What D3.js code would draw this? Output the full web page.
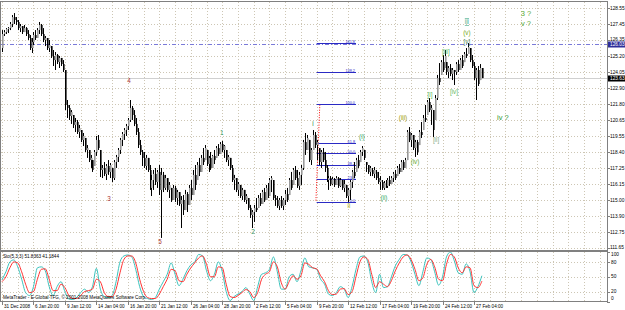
<!DOCTYPE html>
<html>
<head>
<meta charset="utf-8">
<script src="https://cdn.jsdelivr.net/npm/d3@7"></script>
<style>
  body { margin: 0; background: #fff; }
  svg { display: block; }
  text { font-family: "Liberation Sans", Arial, sans-serif; }
</style>
</head>
<body>
<script>
//----------------------------------------------------------------
// données : barres H4 (open / high / low / close), une ligne = 16 barres
//----------------------------------------------------------------
var openP = [125.75,126.74,126.88,127.09,127.16,127.45,127.94,127.73,127.59,127.16,127.30,126.88,127.16,126.74,126.46,125.75,
126.17,126.67,126.46,127.02,127.38,126.74,126.32,126.46,125.75,125.89,125.19,124.90,125.26,124.76,125.05,124.62,
124.20,121.73,121.52,120.95,121.02,120.32,120.53,119.82,119.96,119.26,119.40,118.55,118.55,117.84,117.84,117.42,
118.41,119.26,118.55,117.14,117.28,116.86,117.42,117.00,117.28,116.57,117.70,118.06,118.55,119.26,119.68,119.96,
120.24,120.67,121.52,121.02,120.39,119.82,118.90,118.41,117.99,117.42,117.99,117.14,115.87,116.43,116.86,116.29,
117.00,115.73,116.79,115.87,116.57,115.73,115.87,115.02,115.87,115.16,115.58,114.74,115.02,114.31,115.44,114.67,
115.87,115.37,116.79,116.43,117.49,117.00,117.99,117.84,118.55,117.56,117.99,117.28,118.13,117.99,118.69,118.27,
118.97,118.55,118.55,117.84,117.99,117.28,116.43,116.57,115.73,116.08,115.30,115.73,115.02,115.16,114.46,113.96,
114.17,114.46,114.46,115.16,114.74,115.58,115.02,115.87,115.30,116.43,116.43,115.16,115.02,114.60,115.02,114.60,
115.02,115.44,115.37,116.43,116.08,117.14,116.57,116.01,116.79,117.28,119.11,118.55,119.26,117.84,118.55,119.61,
118.90,118.69,117.70,118.41,117.84,117.28,116.43,116.57,116.15,116.50,116.08,116.57,116.01,116.43,115.87,116.08,
115.30,115.73,116.29,117.00,117.00,117.84,117.70,118.41,118.55,117.70,117.49,117.00,117.14,116.86,117.00,116.57,
116.29,116.29,115.87,116.22,116.01,116.43,116.15,116.57,116.86,116.71,117.28,117.00,117.70,117.28,117.84,119.82,
119.26,119.61,118.69,119.11,118.90,119.82,119.96,120.81,121.02,121.94,121.37,121.37,120.67,122.22,123.63,123.85,
124.76,124.34,124.76,124.06,124.34,123.92,124.20,124.06,124.62,124.20,124.90,124.76,125.33,125.33,125.75,124.90,
124.48,123.63,124.20,123.49,124.34];

var highP = [127.02,127.02,127.16,127.23,127.59,128.08,128.22,127.94,127.73,127.45,127.30,127.38,127.23,127.02,126.67,126.46,
126.88,127.02,127.16,127.59,127.45,127.16,126.60,126.46,126.32,125.89,125.61,125.47,125.33,125.19,125.05,124.90,
124.20,122.08,121.73,121.37,121.02,120.81,120.67,120.32,119.96,119.75,119.40,118.90,118.55,118.20,117.84,118.55,
119.54,119.61,118.55,117.49,117.70,117.56,117.84,117.63,117.28,117.84,118.20,118.69,119.40,119.82,120.10,120.39,
120.81,122.08,121.66,121.37,120.81,120.10,119.26,118.55,118.41,118.20,117.99,117.49,116.79,117.14,117.28,117.14,
117.49,117.28,117.00,116.79,116.57,116.29,115.87,116.08,116.01,115.73,115.58,115.30,115.37,115.73,115.58,116.08,
116.43,117.14,117.49,117.70,117.99,118.20,118.69,118.90,118.55,118.13,118.41,118.20,118.55,118.83,118.97,119.11,
119.19,118.90,118.55,118.20,117.99,117.49,116.79,116.57,116.29,116.08,115.87,115.73,115.44,115.16,114.67,114.31,
114.67,115.16,115.37,115.51,115.73,115.87,116.08,116.22,116.57,116.71,116.43,115.37,115.30,115.16,115.30,115.16,
115.73,115.87,116.57,117.00,117.28,117.42,117.14,117.00,117.49,119.26,119.75,119.61,119.26,118.69,119.96,119.82,
119.26,118.69,118.55,118.69,118.41,117.49,116.71,116.71,116.64,116.57,116.71,116.64,116.57,116.43,116.43,116.08,
115.87,116.43,117.14,117.70,117.99,118.20,118.55,118.83,118.55,117.70,117.49,117.42,117.28,117.35,117.14,117.00,
116.71,116.43,116.36,116.43,116.57,116.71,116.71,117.00,117.14,117.42,117.56,117.84,117.84,117.99,119.96,120.17,
119.75,119.61,119.26,119.26,119.96,120.53,121.02,121.73,122.08,122.22,121.73,121.37,122.43,123.85,124.69,124.90,
125.26,125.61,124.76,124.48,124.62,124.34,124.20,124.76,124.90,125.05,125.26,125.47,125.75,126.10,125.75,125.26,
124.76,124.34,124.48,124.62,124.34];

var lowP = [125.47,126.60,126.74,126.81,127.02,127.23,127.45,127.38,127.02,126.88,126.74,126.88,126.60,126.32,125.61,125.40,
125.96,126.32,126.46,126.74,126.60,126.17,125.89,125.61,125.47,125.05,124.48,124.20,124.62,124.34,124.48,124.06,
121.37,120.81,120.67,120.39,120.10,119.82,119.68,119.40,119.11,118.83,118.41,117.99,117.70,117.28,117.00,117.42,
118.13,118.55,116.64,116.57,116.71,116.43,116.79,116.57,116.29,116.43,117.28,117.70,118.27,118.83,119.26,119.54,
119.96,120.53,120.67,120.24,119.61,118.69,118.20,117.42,117.28,117.14,117.00,115.73,115.30,115.73,116.08,115.87,
115.37,112.34,115.58,115.73,115.58,115.16,114.88,115.02,114.88,114.67,114.60,113.04,113.96,114.31,114.17,114.67,
115.02,115.37,115.73,116.43,116.71,117.00,117.49,117.84,117.42,117.00,117.14,117.28,117.56,117.99,118.13,118.27,
118.41,117.99,117.70,117.42,117.14,116.29,115.73,115.58,115.30,115.16,115.02,114.88,114.74,114.31,113.75,113.04,
113.47,114.17,114.46,114.60,114.74,114.88,115.02,115.16,115.30,115.58,115.02,114.60,114.46,114.31,114.46,114.31,
114.67,114.88,115.37,115.73,116.08,116.43,115.87,115.73,116.08,117.14,118.20,118.55,117.70,117.49,118.55,118.69,
117.84,117.49,117.28,117.70,117.00,116.29,115.73,116.01,116.08,115.94,116.08,115.87,115.94,115.73,115.58,115.16,
114.88,115.02,115.87,116.57,117.00,117.28,117.70,118.13,117.84,117.00,116.86,116.71,116.71,116.57,116.43,116.15,
115.73,115.73,115.73,115.87,115.87,116.01,116.15,116.29,116.43,116.71,116.86,117.00,117.14,117.28,117.84,119.11,
118.76,118.55,118.06,118.20,118.90,119.40,119.96,120.53,121.02,121.23,120.32,119.47,120.67,122.08,123.14,123.85,
124.06,124.34,123.85,123.63,123.77,123.49,123.14,123.85,124.06,124.20,124.34,124.76,125.05,125.33,124.76,124.34,
123.49,122.08,123.07,123.49,123.63];

var closeP = [126.74,126.88,127.09,127.16,127.45,127.94,127.73,127.59,127.16,127.30,126.88,127.16,126.74,126.46,125.75,126.17,
126.67,126.46,127.02,127.38,126.74,126.32,126.46,125.75,125.96,125.19,124.90,125.26,124.76,125.05,124.62,124.20,
121.73,121.52,120.95,121.23,120.32,120.53,119.82,120.10,119.26,119.54,118.55,118.69,117.84,117.99,117.14,118.41,
119.26,118.69,117.14,117.28,116.86,117.42,117.00,117.49,116.57,117.70,118.06,118.55,119.26,119.68,119.96,120.24,
120.67,121.52,121.02,120.39,119.82,118.90,118.41,117.99,117.42,117.99,117.14,115.87,116.43,116.86,116.29,117.00,
115.73,116.79,115.87,116.57,115.73,116.08,115.02,115.87,115.16,115.58,114.74,115.02,114.31,115.44,114.67,115.87,
115.37,116.79,116.08,117.49,117.00,117.99,117.70,118.69,117.56,117.99,117.28,118.13,117.84,118.69,118.27,118.97,
118.55,118.83,117.84,118.06,117.28,116.43,116.57,115.73,116.15,115.30,115.73,115.02,115.30,114.46,113.96,114.17,
114.46,114.31,115.16,114.74,115.58,115.02,115.87,115.30,116.43,116.57,115.16,115.02,114.60,115.02,114.60,115.02,
115.44,115.02,116.43,115.87,117.14,116.57,116.01,116.79,117.28,119.11,118.55,119.40,117.84,118.55,119.61,118.90,
119.11,117.70,118.41,117.84,117.28,116.43,116.57,116.15,116.50,116.08,116.57,116.01,116.43,115.87,116.15,115.30,
115.73,116.29,117.00,116.71,117.84,117.42,118.41,118.69,117.99,117.49,117.00,117.28,116.86,117.14,116.57,116.29,
116.43,115.87,116.22,116.01,116.43,116.15,116.57,116.86,116.57,117.28,117.00,117.70,117.28,117.84,119.82,119.26,
119.61,118.69,119.11,118.41,119.82,119.61,120.81,120.67,121.94,121.37,121.52,119.96,122.22,123.63,123.35,124.76,
124.20,125.19,124.06,124.34,123.92,124.20,124.06,124.62,124.20,124.90,124.48,125.33,125.19,125.82,124.90,124.48,
123.63,124.20,123.21,124.34,123.63];

// stochastique (5,3,3), une valeur toutes les 2 barres
var stoMain = [44,60,80,84,70,45,18,12,30,68,70,62,30,12,30,40,20,5,4,8,18,25,18,30,67,25,10,8,12,40,
80,92,94,90,65,30,10,6,4,8,25,40,55,78,55,32,45,62,74,80,95,92,62,42,55,80,60,20,2,10,
15,20,28,15,2,30,55,58,65,90,60,25,25,50,55,40,62,88,70,68,65,45,35,15,12,18,30,25,8,30,
65,90,92,80,40,18,55,28,30,50,72,85,95,94,80,55,32,60,88,85,60,33,50,90,100,82,58,55,76,60,
18,30,52];
var stoSignal = [40,50,68,80,78,60,35,18,20,45,65,66,45,22,22,35,28,12,6,6,12,20,22,25,45,40,18,10,10,25,
58,85,92,92,78,45,20,8,6,6,15,30,45,65,62,42,40,55,68,78,88,92,75,50,50,70,68,35,10,8,
12,18,24,20,8,18,45,55,60,80,70,38,25,40,52,45,52,78,75,68,66,52,40,22,14,15,25,26,14,20,
50,80,90,85,55,28,40,35,30,42,62,78,90,94,85,65,42,48,75,85,70,45,42,75,95,90,68,58,70,68,
32,28,41];

// axes
var timeLabels = ["31 Dec 2008","6 Jan 20:00","9 Jan 12:00","14 Jan 04:00","16 Jan 20:00","21 Jan 12:00",
  "26 Jan 04:00","28 Jan 20:00","2 Feb 12:00","5 Feb 04:00","9 Feb 20:00","12 Feb 12:00",
  "17 Feb 04:00","19 Feb 20:00","24 Feb 12:00","27 Feb 04:00"];
var priceTicks = [128.55,127.45,126.35,125.20,124.05,122.90,121.80,120.65,119.55,118.40,117.25,116.15,115.00,113.90,112.75,111.65];
var stoTicks = [100,80,50,20,0];
var stoGrid = [80,50,20];

// objets : ligne horizontale, fibonacci
var hLinePrice = 126.03;
var fibExpLevels = ["100.0","138.2","161.8"];
var fibExpPrices = [121.80,124.06,126.10];
var fibRetLevels = ["0.0","23.6","38.2","50.0","61.8"];
var fibRetPrices = [114.88,116.50,117.49,118.34,119.04];
var fibBars = [160,180];
var fibTrend = [[161.6,121.75],[159.6,114.88]];

// étiquettes Elliott
var waveText  = ["4","3","5","1","2","i","(i)","ii","(ii)","(iii)","(iv)","[i]","[ii]","[iii]","[iv]","iii","(v)","[v]","3 ?","v ?","iv ?"];
var waveBar   = [64.6,54.4,80.3,111.8,127.6,158.1,183.0,176.4,194.2,203.9,210.0,217.6,220.7,225.7,229.8,236.4,236.4,236.4,266.4,266.4,254.7];
var wavePrice = [123.42,115.09,112.05,119.75,112.76,120.39,119.47,114.60,115.16,120.81,117.70,122.43,119.26,125.47,122.65,127.59,126.81,126.17,128.22,127.52,120.88];
var waveColor = ["#a33","#a33","#a33","#396","#396","#283","#3a6","#aa0","#3a6","#990","#6a3","#5b5","#8a8","#5b5","#6b6","#4a8","#7a2","#585","#5a3","#5a3","#393"];
var waveDeco  = ["","","","","","","","","","","","","","","","overline underline","","","","",""];

//----------------------------------------------------------------
//  svg
//----------------------------------------------------------------
var largeur = 625, hauteur = 310;
var svg = d3.select("body").append("svg")
    .attr("width", largeur)
    .attr("height", hauteur);

var x = d3.scaleLinear().domain([0, 240]).range([2, 474]);
var y = d3.scaleLinear().domain([111.65, 128.55]).range([247.7, 8.4]);
var ys = d3.scaleLinear().domain([0, 100]).range([301.5, 252]);

var droite = 607, grille = "#cdc6b4";
function px(v) { return Math.round(v) + 0.5; }

// grille verticale (toutes les 8 barres)
var vIdx = d3.range(0, 308, 8);
[[2, 250], [252, 301]].forEach(function(r) {
  svg.append("g").selectAll("line").data(vIdx).enter().append("line")
    .attr("x1", function(d) { return px(x(d)); })
    .attr("x2", function(d) { return px(x(d)); })
    .attr("y1", r[0]).attr("y2", r[1])
    .attr("stroke", grille).attr("stroke-dasharray", "1,2");
});
// grille horizontale
svg.append("g").selectAll("line").data(priceTicks).enter().append("line")
  .attr("x1", 1).attr("x2", droite)
  .attr("y1", function(d) { return px(y(d)); })
  .attr("y2", function(d) { return px(y(d)); })
  .attr("stroke", grille).attr("stroke-dasharray", "1,2");
svg.append("g").selectAll("line").data(stoGrid).enter().append("line")
  .attr("x1", 1).attr("x2", droite)
  .attr("y1", function(d) { return px(ys(d)); })
  .attr("y2", function(d) { return px(ys(d)); })
  .attr("stroke", grille).attr("stroke-dasharray", "1,2");

// ligne horizontale bleue + prix courant
svg.append("line").attr("x1", 1).attr("x2", droite)
  .attr("y1", px(y(hLinePrice))).attr("y2", px(y(hLinePrice)))
  .attr("stroke", "#7a7ad8").attr("stroke-dasharray", "4,2,1,2");
var dernier = closeP[closeP.length - 1];
svg.append("line").attr("x1", 1).attr("x2", droite)
  .attr("y1", px(y(dernier))).attr("y2", px(y(dernier)))
  .attr("stroke", "#d0d0d0");

// fibonacci
var fx1 = x(fibBars[0]), fx2 = x(fibBars[1]);
var fib = svg.append("g");
fib.append("line")
  .attr("x1", x(fibTrend[0][0])).attr("y1", y(fibTrend[0][1]))
  .attr("x2", x(fibTrend[1][0])).attr("y2", y(fibTrend[1][1]))
  .attr("stroke", "#f00").attr("stroke-dasharray", "1,1.5");
fibExpPrices.concat(fibRetPrices).forEach(function(p, k) {
  var lab = fibExpLevels.concat(fibRetLevels)[k];
  fib.append("line").attr("x1", fx1).attr("x2", fx2)
    .attr("y1", px(y(p))).attr("y2", px(y(p)))
    .attr("stroke", "#2a2ac4");
  fib.append("text").attr("x", fx2 - 1).attr("y", px(y(p)) - 1)
    .attr("text-anchor", "end").attr("font-size", 3.8)
    .attr("fill", "#2a2ac4").text(lab);
});

// barres
var barres = svg.append("g");
closeP.forEach(function(c, i) {
  var xc = Math.round(x(i));
  var o = openP[i], hausse = c >= o;
  barres.append("line")
    .attr("x1", xc + 0.5).attr("x2", xc + 0.5)
    .attr("y1", y(highP[i])).attr("y2", y(lowP[i]))
    .attr("stroke", "#000");
  var yt = y(Math.max(o, c)), yb = y(Math.min(o, c));
  barres.append("rect")
    .attr("x", xc).attr("width", 1.6)
    .attr("y", yt).attr("height", Math.max(1, yb - yt))
    .attr("fill", hausse ? "#9a9a9a" : "#000");
});

// étiquettes Elliott
svg.append("g").selectAll("text").data(waveText).enter().append("text")
  .attr("x", function(d, i) { return x(waveBar[i]); })
  .attr("y", function(d, i) { return y(wavePrice[i]); })
  .attr("dy", "0.35em")
  .attr("text-anchor", "middle")
  .attr("font-family", "DejaVu Sans")
  .attr("font-size", function(d) { return d.indexOf("?") > 0 ? 7.5 : 6.3; })
  .attr("text-decoration", function(d, i) { return waveDeco[i] || null; })
  .attr("fill", function(d, i) { return waveColor[i]; })
  .text(function(d) { return d; });

// stochastique
var ligneSto = function(arr) {
  return d3.line()
    .x(function(d, k) { return x(k * 2); })
    .y(function(d) { return ys(d); })
    .curve(d3.curveMonotoneX)(arr);
};
svg.append("path").attr("d", ligneSto(stoMain)).attr("fill", "none").attr("stroke", "#3cc3bd");
svg.append("path").attr("d", ligneSto(stoSignal)).attr("fill", "none").attr("stroke", "#f33");

// cadre
svg.append("rect").attr("x", 0.5).attr("y", 1.5).attr("width", droite).attr("height", 300)
  .attr("fill", "none").attr("stroke", "#808080");
svg.append("rect").attr("x", 0.5).attr("y", 250).attr("width", droite).attr("height", 2).attr("fill", "#808080");

// axe des prix
var axeP = svg.append("g");
priceTicks.forEach(function(p) {
  axeP.append("line").attr("x1", droite).attr("x2", droite + 3)
    .attr("y1", px(y(p))).attr("y2", px(y(p))).attr("stroke", "#808080");
  axeP.append("text").attr("x", droite + 3).attr("y", y(p)).attr("dy", "0.35em")
    .attr("font-size", 4.8).attr("fill", "#000").text(d3.format(".2f")(p));
});
[[hLinePrice, "#2e2e9a"], [dernier, "#000"]].forEach(function(b) {
  var yy = px(y(b[0]));
  axeP.append("rect").attr("x", droite + 1).attr("y", yy - 3).attr("width", 17).attr("height", 6).attr("fill", b[1]);
  axeP.append("text").attr("x", droite + 3).attr("y", yy).attr("dy", "0.35em")
    .attr("font-size", 4.8).attr("fill", "#fff").text(d3.format(".2f")(b[0]));
});
stoTicks.forEach(function(v) {
  var yy = Math.min(Math.max(ys(v), 254.5), 298.5);
  axeP.append("line").attr("x1", droite).attr("x2", droite + 3)
    .attr("y1", px(ys(v))).attr("y2", px(ys(v))).attr("stroke", "#808080");
  axeP.append("text").attr("x", droite + 4).attr("y", yy).attr("dy", "0.35em")
    .attr("font-size", 4.8).attr("fill", "#000").text(v);
});

// axe du temps
var axeT = svg.append("g");
timeLabels.forEach(function(t, k) {
  var xx = px(x(k * 16));
  axeT.append("line").attr("x1", xx).attr("x2", xx).attr("y1", 301).attr("y2", 305).attr("stroke", "#808080");
  axeT.append("text").attr("x", xx + 1.5).attr("y", 307.5).attr("font-size", 4.6).attr("fill", "#000").text(t);
});

// textes
svg.append("text").attr("x", 3).attr("y", 257.5).attr("font-size", 4.6).attr("fill", "#000")
  .text("Sto(5,3,3) 51.8363 41.1844");
svg.append("text").attr("x", 3).attr("y", 298.5).attr("font-size", 4.6).attr("fill", "#000")
  .text("MetaTrader - E-Global TFG, \u00a9 2001-2008 MetaQuotes Software Corp.");
</script>
</body>
</html>
